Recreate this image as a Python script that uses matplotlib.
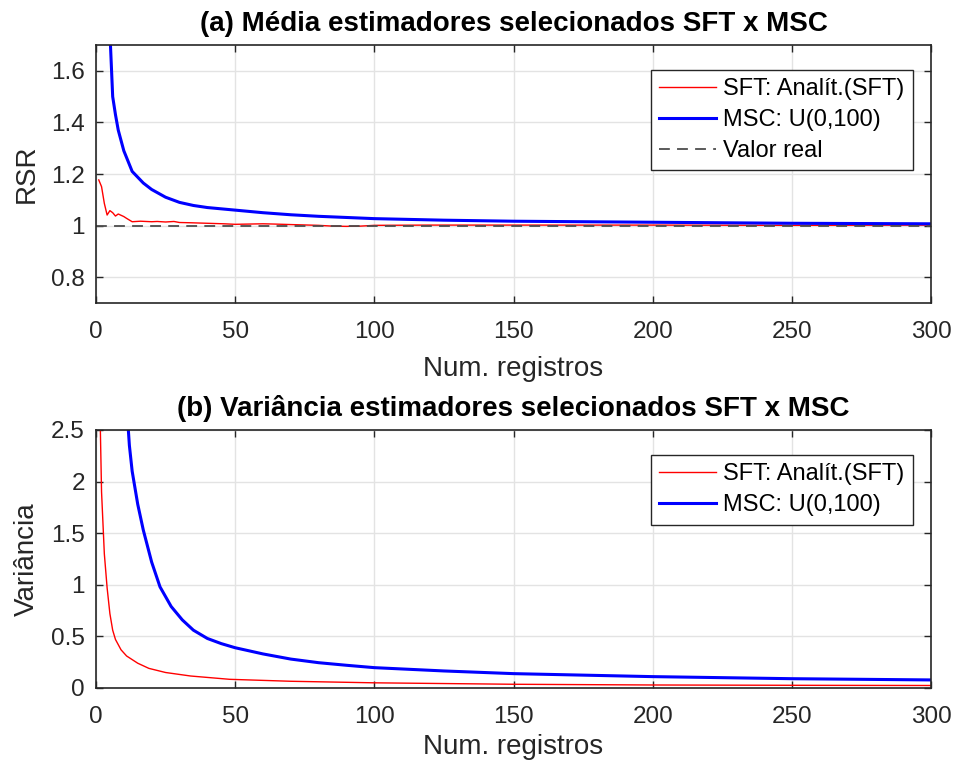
import matplotlib
matplotlib.use('Agg')
import matplotlib.pyplot as plt

plt.rcParams['font.family'] = ['Liberation Sans', 'DejaVu Sans']

# (a) media dos estimadores
n_sft_mean = [1, 2, 3, 4, 5, 6, 7, 8, 10, 11, 13, 16, 20, 22, 25, 28, 30, 34, 40, 46, 50, 60, 64, 70,
              80, 85, 90, 95, 100, 120, 150, 200, 250, 300]
sft_mean = [1.177, 1.151, 1.086, 1.041, 1.058, 1.050, 1.037, 1.045, 1.035, 1.028, 1.015, 1.017, 1.015,
            1.016, 1.014, 1.016, 1.012, 1.011, 1.009, 1.007, 1.005, 1.007, 1.006, 1.004,
            1.001, 0.998, 0.997, 0.998, 1.001, 1.002, 1.002, 1.002, 1.001, 1.002]
n_msc_mean = [1, 2, 3, 4, 5, 6, 7, 8, 10, 13, 17, 20, 25, 30, 35, 40, 50, 60, 70, 80, 100, 125, 150,
              200, 250, 300]
msc_mean = [4.2, 2.9, 2.25, 1.95, 1.75, 1.50, 1.43, 1.37, 1.29, 1.21, 1.165, 1.14, 1.11, 1.09,
            1.078, 1.07, 1.060, 1.050, 1.042, 1.036, 1.027, 1.021, 1.017, 1.013, 1.009, 1.007]
valor_real = 1

# (b) variancia dos estimadores
n_sft_var = [1, 2, 3, 4, 5, 6, 7, 9, 11, 15, 19, 25, 34, 48, 70, 100, 150, 200, 250, 300]
sft_var = [3.3, 1.9, 1.3, 0.97, 0.72, 0.56, 0.47, 0.37, 0.31, 0.24, 0.19, 0.15, 0.116, 0.084, 0.065,
           0.05, 0.036, 0.029, 0.026, 0.024]
n_msc_var = [8, 10, 11, 12, 13, 15, 17, 20, 23, 27, 31, 35, 40, 45, 50, 60, 70, 80, 90, 100, 125,
             150, 200, 250, 300]
msc_var = [4.6, 3.3, 2.75, 2.35, 2.1, 1.78, 1.53, 1.22, 0.98, 0.79, 0.66, 0.56, 0.48, 0.43, 0.39,
           0.33, 0.28, 0.245, 0.22, 0.197, 0.165, 0.139, 0.11, 0.09, 0.078]

lbl_sft = 'SFT: Analít.(SFT)'
lbl_msc = 'MSC: U(0,100)'

fig = plt.figure(figsize=(9.56, 7.64), dpi=100)
ax1 = fig.add_axes([0.1004, 0.6034, 0.8735, 0.3377])
ax2 = fig.add_axes([0.1004, 0.0995, 0.8735, 0.3377])

def estilo(ax, lpad):
    ax.grid(True, color='#e3e3e3', linewidth=1)
    ax.set_axisbelow(True)
    ax.tick_params(direction='in', top=True, right=True, labelsize=17.5, colors='#262626',
                   length=5, width=1)
    ax.tick_params(axis='x', pad=13)
    ax.tick_params(axis='y', pad=8)
    for s in ax.spines.values():
        s.set_color('#262626')
        s.set_linewidth(1.2)
    ax.set_xlim(0, 300)
    ax.set_xticks([0, 50, 100, 150, 200, 250, 300])
    ax.set_xlabel('Num. registros', fontsize=20, color='#262626', labelpad=lpad)

def legenda(ax):
    ax.legend(loc='upper right', bbox_to_anchor=(0.978, 0.903), fontsize=17, frameon=True,
              fancybox=False, edgecolor='#262626', framealpha=1, handlelength=2.4,
              handletextpad=0.3, borderpad=0.35, labelspacing=0.38, borderaxespad=0)

ax1.plot(n_sft_mean, sft_mean, color='red', linewidth=1, label=lbl_sft)
ax1.plot(n_msc_mean, msc_mean, color='blue', linewidth=2.2, label=lbl_msc)
ax1.axhline(valor_real, color='#4d4d4d', linestyle=(0, (6, 4)), linewidth=1.3, label='Valor real')
estilo(ax1, 9)
ax1.set_ylim(0.7, 1.7)
ax1.set_yticks([0.8, 1, 1.2, 1.4, 1.6])
ax1.set_yticklabels(['0.8', '1', '1.2', '1.4', '1.6'])
ax1.set_ylabel('RSR', fontsize=20, color='#262626', labelpad=8)
ax1.set_title('(a) Média estimadores selecionados SFT x MSC', fontsize=20, fontweight='bold', pad=10)
legenda(ax1)

ax2.plot(n_sft_var, sft_var, color='red', linewidth=1, label=lbl_sft)
ax2.plot(n_msc_var, msc_var, color='blue', linewidth=2.2, label=lbl_msc)
estilo(ax2, 4)
ax2.set_ylim(0, 2.5)
ax2.set_yticks([0, 0.5, 1, 1.5, 2, 2.5])
ax2.set_yticklabels(['0', '0.5', '1', '1.5', '2', '2.5'])
ax2.set_ylabel('Variância', fontsize=20, color='#262626', labelpad=8)
ax2.set_title('(b) Variância estimadores selecionados SFT x MSC', fontsize=20, fontweight='bold', pad=10)
legenda(ax2)

fig.savefig('out.png', dpi=100)
plt.close(fig)
